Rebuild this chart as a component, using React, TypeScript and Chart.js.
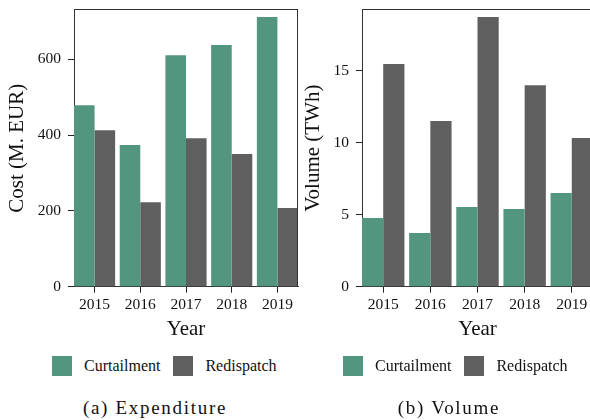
import React, { useEffect, useRef } from "react";
import { Chart, registerables } from "chart.js";

Chart.register(...registerables);

const years = ["2015", "2016", "2017", "2018", "2019"];
const seriesNames = ["Curtailment", "Redispatch"];
const costCurtailment = [479, 374, 611, 638, 712];
const costRedispatch = [413, 223, 392, 350, 208];
const volumeCurtailment = [4.77, 3.73, 5.53, 5.4, 6.51];
const volumeRedispatch = [15.47, 11.51, 18.73, 14.0, 10.33];
const costTicks = [0, 200, 400, 600];
const volumeTicks = [0, 5, 10, 15];
const costMax = 731;
const volumeMax = 19.24;
const colors = ["#52967f", "#5f5f5f"];

const family = "'Liberation Serif', 'Times New Roman', serif";
const textColor = "#111";

const framePlugin = {
  id: "frame",
  afterDraw(chart: any) {
    const { ctx, chartArea: a } = chart;
    ctx.save();
    ctx.strokeStyle = "#333";
    ctx.lineWidth = 1;
    ctx.beginPath();
    const top = Math.floor(a.top) + 0.5;
    const right = Math.round(a.right) - 0.5;
    ctx.moveTo(a.left, top);
    ctx.lineTo(a.right, top);
    ctx.moveTo(right, a.top);
    ctx.lineTo(right, a.bottom);
    ctx.stroke();
    ctx.restore();
  },
};

type PanelProps = {
  left: number;
  curt: number[];
  redis: number[];
  yTicks: number[];
  yMax: number;
  yTitle: string;
  yWidth: number;
  padRight: number;
};

function BarPanel({ left, curt, redis, yTicks, yMax, yTitle, yWidth, padRight }: PanelProps) {
  const ref = useRef<HTMLCanvasElement>(null);
  useEffect(() => {
    const chart = new Chart(ref.current as HTMLCanvasElement, {
      type: "bar",
      data: {
        datasets: [
          {
            label: seriesNames[0],
            data: curt.map((v, i) => ({ x: i, y: v })),
            backgroundColor: colors[0],
          },
          {
            label: seriesNames[1],
            data: redis.map((v, i) => ({ x: i, y: v })),
            backgroundColor: colors[1],
          },
        ],
      } as any,
      options: {
        animation: false,
        responsive: false,
        maintainAspectRatio: false,
        devicePixelRatio: 1,
        layout: { padding: { top: 9.7, right: padRight, left: 0, bottom: 0 } },
        datasets: {
          bar: { barPercentage: 1, categoryPercentage: 0.9, borderWidth: 0 },
        },
        plugins: { legend: { display: false }, tooltip: { enabled: false } },
        scales: {
          x: {
            type: "linear",
            min: -0.45,
            max: 4.45,
            offset: false,
            grid: {
              offset: false,
              drawOnChartArea: false,
              drawTicks: true,
              tickLength: 6,
              color: "#222",
            },
            border: { display: true, color: "#333", width: 1 },
            afterBuildTicks: (s: any) => {
              s.ticks = years.map((_, i) => ({ value: i }));
            },
            afterFit: (s: any) => {
              s.height = 53.3;
              s.paddingLeft = 0;
              s.paddingRight = 0;
            },
            ticks: {
              callback: (v: any) => years[v as number],
              font: { family, size: 15.5 },
              color: textColor,
              padding: 3,
              maxRotation: 0,
              autoSkip: false,
            },
            title: {
              display: true,
              text: "Year",
              font: { family, size: 21 },
              color: textColor,
              padding: { top: 0, bottom: -2 },
            },
          },
          y: {
            min: 0,
            max: yMax,
            grid: {
              drawOnChartArea: false,
              drawTicks: true,
              tickLength: 6,
              color: "#222",
            },
            border: { display: true, color: "#333", width: 1 },
            afterBuildTicks: (s: any) => {
              s.ticks = yTicks.map((v) => ({ value: v }));
            },
            afterFit: (s: any) => {
              s.width = yWidth;
              s.paddingTop = 0;
              s.paddingBottom = 0;
            },
            ticks: {
              callback: (v: any) => String(v),
              font: { family, size: 15.5 },
              color: textColor,
              padding: 7,
            },
            title: {
              display: true,
              text: yTitle,
              font: { family, size: 21 },
              color: textColor,
              padding: { top: 5, bottom: 0 },
            },
          },
        },
      } as any,
      plugins: [framePlugin],
    });
    return () => chart.destroy();
  }, []);
  return (
    <canvas
      ref={ref}
      width={300}
      height={340}
      style={{ position: "absolute", left, top: 0, width: 300, height: 340 }}
    />
  );
}

function Legend({ left }: { left: number }) {
  return (
    <div
      style={{
        position: "absolute",
        left,
        top: 356,
        height: 20,
        display: "flex",
        alignItems: "center",
        fontFamily: family,
        fontSize: 16,
        lineHeight: "20px",
        color: textColor,
        whiteSpace: "nowrap",
      }}
    >
      {seriesNames.map((n, i) => (
        <React.Fragment key={n}>
          <span
            style={{
              display: "inline-block",
              width: 20,
              height: 20,
              background: colors[i],
              marginLeft: i ? 13 : 0,
              marginRight: 12,
            }}
          />
          <span>{n}</span>
        </React.Fragment>
      ))}
    </div>
  );
}

function Caption({ center, text }: { center: number; text: string }) {
  return (
    <div
      style={{
        position: "absolute",
        left: center - 150,
        width: 300,
        top: 397,
        textAlign: "center",
        fontFamily: family,
        fontSize: 19,
        letterSpacing: "1.7px",
        lineHeight: "22px",
        color: textColor,
        whiteSpace: "nowrap",
      }}
    >
      {text}
    </div>
  );
}

export default function App() {
  return (
    <div
      style={{
        position: "fixed",
        left: 0,
        top: 0,
        width: 590,
        height: 420,
        overflow: "hidden",
        background: "#fff",
      }}
    >
      <BarPanel
        left={0}
        curt={costCurtailment}
        redis={costRedispatch}
        yTicks={costTicks}
        yMax={costMax}
        yTitle="Cost (M. EUR)"
        yWidth={74}
        padRight={2}
      />
      <BarPanel
        left={296}
        curt={volumeCurtailment}
        redis={volumeRedispatch}
        yTicks={volumeTicks}
        yMax={volumeMax}
        yTitle="Volume (TWh)"
        yWidth={66}
        padRight={3}
      />
      <Legend left={52} />
      <Legend left={343} />
      <Caption center={155} text="(a) Expenditure" />
      <Caption center={449} text="(b) Volume" />
    </div>
  );
}
